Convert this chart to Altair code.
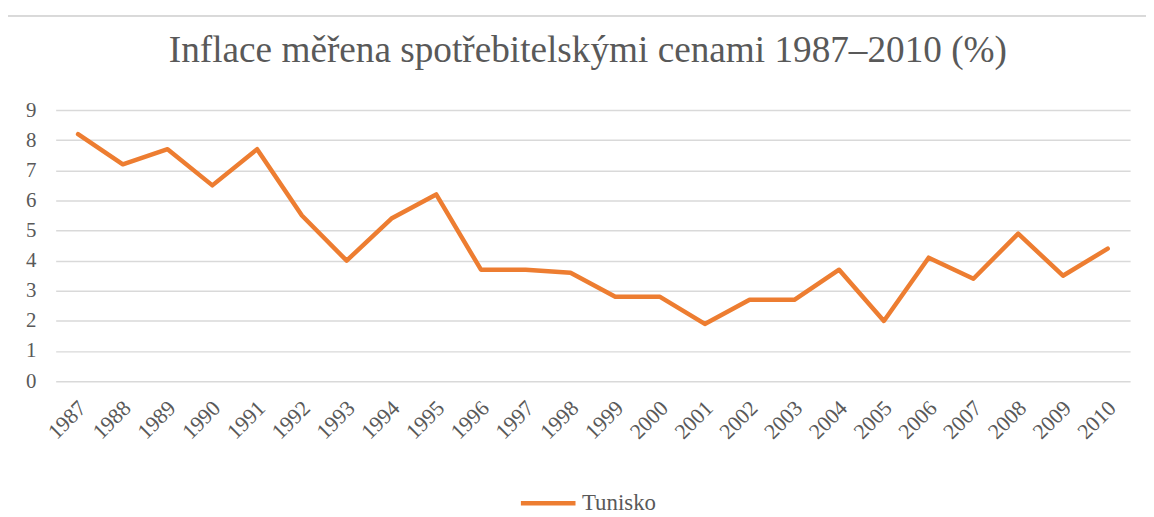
import altair as alt
import pandas as pd

years = [str(y) for y in range(1987, 2011)]
values = [8.2, 7.2, 7.7, 6.5, 7.7, 5.5, 4.0, 5.4, 6.2, 3.7, 3.7, 3.6,
          2.8, 2.8, 1.9, 2.7, 2.7, 3.7, 2.0, 4.1, 3.4, 4.9, 3.5, 4.4]
series = ["Tunisko"] * len(years)
y_ticks = list(range(0, 10))

df = pd.DataFrame({"rok": years, "inflace": values, "zeme": series})

GRAY_TXT = "#595959"
GRID = "#D9D9D9"
FONT = "Liberation Serif"

line = alt.Chart(df).mark_line(strokeWidth=4.5, strokeCap="round", strokeJoin="round").encode(
    x=alt.X("rok:O", title=None, sort=years,
            axis=alt.Axis(labelAngle=-45, labelFontSize=22, labelColor=GRAY_TXT,
                          labelFont=FONT, ticks=False, domain=False, labelPadding=16,
                          labelOffset=-3)),
    y=alt.Y("inflace:Q", title=None,
            scale=alt.Scale(domain=[0, 9], nice=False),
            axis=alt.Axis(values=y_ticks, labelFontSize=21, labelColor=GRAY_TXT, labelFont=FONT,
                          ticks=False, domain=False, gridColor=GRID, gridWidth=1.5,
                          labelPadding=20)),
    color=alt.Color("zeme:N", title=None,
                    scale=alt.Scale(range=["#ED7D31"]),
                    legend=alt.Legend(orient="none", legendX=466, legendY=366,
                                      symbolType="stroke", symbolSize=3025,
                                      symbolStrokeWidth=4.5, labelFontSize=23,
                                      labelFont=FONT, labelColor=GRAY_TXT,
                                      labelOffset=4)),
)

border_top = alt.Chart(df).mark_rule(color=GRID, strokeWidth=1.5).encode(
    x=alt.value(-49), x2=alt.value(1100), y=alt.value(-95))
border_left = alt.Chart(df).mark_rule(color=GRID, strokeWidth=1.5).encode(
    x=alt.value(-49), y=alt.value(-95), y2=alt.value(410))

chart = alt.layer(border_top, border_left, line).properties(
    width=1082, height=273,
    autosize=alt.AutoSizeParams(type="none"),
    padding={"left": 48, "top": 101, "right": 16, "bottom": 135},
    title=alt.Title("Inflace měřena spotřebitelskými cenami 1987–2010 (%)",
                    fontSize=37.5, font=FONT, fontWeight="normal", color=GRAY_TXT,
                    anchor="middle", baseline="alphabetic", offset=-85, dx=-5),
).configure_view(stroke=None)

chart.save("out.html", embed_options={"renderer": "svg", "actions": False})
